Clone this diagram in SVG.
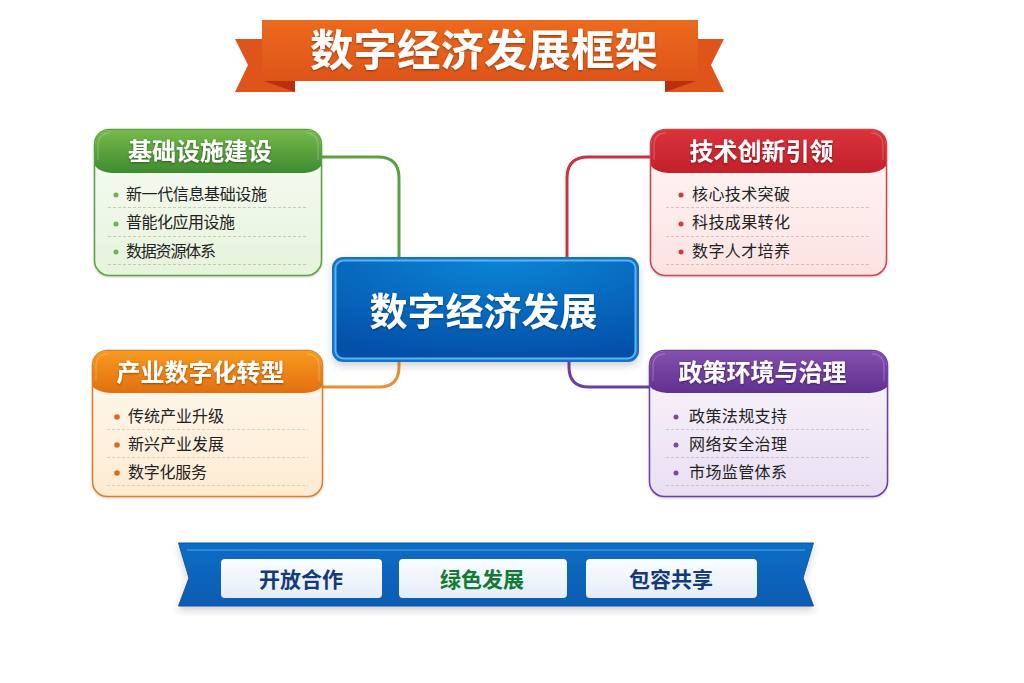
<svg xmlns="http://www.w3.org/2000/svg" width="1024" height="683" viewBox="0 0 1024 683">
<style>
text{font-family:"Noto Sans CJK SC","Liberation Sans",sans-serif;text-anchor:middle}
.h{font-size:24px;font-weight:700;fill:#fff;filter:url(#ts)}
.i{font-size:16px;font-weight:400;fill:#222;text-anchor:start}
.d{stroke-width:.8;stroke-dasharray:3 2;fill:none;opacity:.45}
.c{fill:none;stroke-width:3}
.b{font-size:21px;font-weight:700}
.hl{fill:none;stroke:#fff;stroke-opacity:.18;stroke-width:1.500}
</style>
<defs>
<filter id="ts" x="-10%" y="-20%" width="120%" height="140%"><feDropShadow dx="0" dy="1" stdDeviation=".8" flood-color="#000" flood-opacity=".4"/></filter>
<filter id="sh" x="-10%" y="-15%" width="120%" height="135%"><feDropShadow dx="0" dy="4" stdDeviation="3.500" flood-color="#334" flood-opacity=".22"/></filter>
<filter id="sh2" x="-5%" y="-10%" width="110%" height="130%"><feDropShadow dx="0" dy="1" stdDeviation="1" flood-color="#000" flood-opacity=".2"/></filter>
<linearGradient id="gt" x1="0" y1="0" x2="0" y2="1"><stop offset="0" stop-color="#ec6a1d"/><stop offset="1" stop-color="#dd5419"/></linearGradient>
<radialGradient id="gc" cx=".55" cy="0" r="1"><stop offset="0" stop-color="#0b84d6"/><stop offset="1" stop-color="#0450a8"/></radialGradient>
<linearGradient id="gr" x1="0" y1="0" x2="0" y2="1"><stop offset="0" stop-color="#0f6dc4"/><stop offset="1" stop-color="#0b5cb2"/></linearGradient>
<linearGradient id="gb" x1="0" y1="0" x2="0" y2="1"><stop offset="0" stop-color="#fbfdff"/><stop offset="1" stop-color="#e3edf8"/></linearGradient>
<linearGradient id="g1" x1="0" y1="0" x2="0" y2="1"><stop offset="0" stop-color="#75ba4b"/><stop offset="1" stop-color="#3f8a31"/></linearGradient>
<linearGradient id="g1b" x1="0" y1="0" x2="0" y2="1"><stop offset="0" stop-color="#f9fcf5"/><stop offset="1" stop-color="#e6f3dc"/></linearGradient>
<linearGradient id="g2" x1="0" y1="0" x2="0" y2="1"><stop offset="0" stop-color="#d9343c"/><stop offset="1" stop-color="#c11f2b"/></linearGradient>
<linearGradient id="g2b" x1="0" y1="0" x2="0" y2="1"><stop offset="0" stop-color="#fff7f6"/><stop offset="1" stop-color="#fce3e2"/></linearGradient>
<linearGradient id="g3" x1="0" y1="0" x2="0" y2="1"><stop offset="0" stop-color="#f79a1e"/><stop offset="1" stop-color="#e26f10"/></linearGradient>
<linearGradient id="g3b" x1="0" y1="0" x2="0" y2="1"><stop offset="0" stop-color="#fffaf0"/><stop offset="1" stop-color="#fdebd2"/></linearGradient>
<linearGradient id="g4" x1="0" y1="0" x2="0" y2="1"><stop offset="0" stop-color="#8450ad"/><stop offset="1" stop-color="#623091"/></linearGradient>
<linearGradient id="g4b" x1="0" y1="0" x2="0" y2="1"><stop offset="0" stop-color="#f9f6fc"/><stop offset="1" stop-color="#e9dff2"/></linearGradient>
</defs>
<rect width="1024" height="683" fill="#fff"/>

<g id="connectors">
<path class="c" stroke="#5da044" d="M322 157H378Q399 157 399 178V258"/>
<path class="c" stroke="#c9343f" d="M650 157H588Q567 157 567 178V258"/>
<path class="c" stroke="#e98f35" d="M399 361V367Q399 387 379 387H322"/>
<path class="c" stroke="#6f3f9f" d="M569 361V367Q569 387 589 387H650"/>
</g>

<g id="title-banner">
<path fill="#df541b" d="M235 39H275V92H235L248 65Z"/>
<path fill="#df541b" d="M724 39H685V92H724L711 65Z"/>
<path fill="#df541b" d="M270 85H295V92H270ZM690 85H665V92H690Z"/>
<path fill="#b8300f" d="M264 81H295V92Z"/>
<path fill="#b8300f" d="M696 81H665V92Z"/>
<rect x="262" y="20" width="436" height="61" fill="url(#gt)"/>
<text x="484" y="66" font-size="43.500" font-weight="700" fill="#fff" filter="url(#ts)">数字经济发展框架</text>
</g>

<g id="node-infrastructure">
<rect x="94.500" y="129.500" width="227" height="146" rx="15" fill="url(#g1b)" stroke="#5da044" stroke-width="1.500" filter="url(#sh2)"/>
<path fill="url(#g1)" d="M95 166V145Q95 130 110 130H306Q321 130 321 145V166Q316 172 304 173H112Q100 172 95 166Z"/>
<path class="hl" d="M98 160V146Q98 133 110 133"/>
<path class="hl" d="M318 160V146Q318 133 306 133"/>
<text class="h" x="200" y="160">基础设施建设</text>
<circle cx="116" cy="195" r="2.500" fill="#6db357"/><circle cx="116" cy="224" r="2.500" fill="#6db357"/><circle cx="116" cy="252" r="2.500" fill="#6db357"/>
<text class="i" x="126" y="200" textLength="141">新一代信息基础设施</text>
<text class="i" x="126" y="228" textLength="109">普能化应用设施</text>
<text class="i" x="126" y="257" textLength="90">数据资源体系</text>
<path class="d" stroke="#6b8a5c" d="M108 207.500H306M108 236.500H306M108 264.500H306"/>
</g>

<g id="node-innovation">
<rect x="650.500" y="129.500" width="236" height="146" rx="15" fill="url(#g2b)" stroke="#d0454c" stroke-width="1.500" filter="url(#sh2)"/>
<path fill="url(#g2)" d="M651 166V145Q651 130 666 130H871Q886 130 886 145V166Q881 172 869 173H668Q656 172 651 166Z"/>
<path class="hl" d="M654 160V146Q654 133 666 133"/>
<path class="hl" d="M883 160V146Q883 133 871 133"/>
<text class="h" x="761.500" y="160">技术创新引领</text>
<circle cx="681" cy="195" r="2.500" fill="#d0393f"/><circle cx="681" cy="224" r="2.500" fill="#d0393f"/><circle cx="681" cy="252" r="2.500" fill="#d0393f"/>
<text class="i" x="692" y="200" textLength="98">核心技术突破</text>
<text class="i" x="692" y="228" textLength="98">科技成果转化</text>
<text class="i" x="692" y="257" textLength="98">数字人才培养</text>
<path class="d" stroke="#a07070" d="M666 207.500H871M666 236.500H871M666 264.500H871"/>
</g>

<g id="node-industry">
<rect x="92.500" y="350.500" width="230" height="146" rx="15" fill="url(#g3b)" stroke="#d9802c" stroke-width="1.500" filter="url(#sh2)"/>
<path fill="url(#g3)" d="M93 387V366Q93 351 108 351H307Q322 351 322 366V387Q317 392 305 393H110Q98 392 93 387Z"/>
<path class="hl" d="M96 381V367Q96 354 108 354"/>
<path class="hl" d="M319 381V367Q319 354 307 354"/>
<text class="h" x="200.500" y="381">产业数字化转型</text>
<circle cx="117" cy="417" r="2.800" fill="#dd6a1f"/><circle cx="117" cy="445" r="2.800" fill="#dd6a1f"/><circle cx="117" cy="473" r="2.800" fill="#dd6a1f"/>
<text class="i" x="128" y="422" textLength="96">传统产业升级</text>
<text class="i" x="128" y="450" textLength="96">新兴产业发展</text>
<text class="i" x="128" y="478" textLength="79">数字化服务</text>
<path class="d" stroke="#b09470" d="M107 429.500H308M107 457.500H308M107 485.500H308"/>
</g>

<g id="node-policy">
<rect x="649.500" y="350.500" width="238" height="146" rx="15" fill="url(#g4b)" stroke="#6f3f9f" stroke-width="1.500" filter="url(#sh2)"/>
<path fill="url(#g4)" d="M650 387V366Q650 351 665 351H872Q887 351 887 366V387Q882 392 870 393H667Q655 392 650 387Z"/>
<path class="hl" d="M653 381V367Q653 354 665 354"/>
<path class="hl" d="M884 381V367Q884 354 872 354"/>
<text class="h" x="762.500" y="381">政策环境与治理</text>
<circle cx="676" cy="417" r="2.500" fill="#7b4aa8"/><circle cx="676" cy="445" r="2.500" fill="#7b4aa8"/><circle cx="676" cy="473" r="2.500" fill="#7b4aa8"/>
<text class="i" x="689" y="422" textLength="98">政策法规支持</text>
<text class="i" x="689" y="450" textLength="98">网络安全治理</text>
<text class="i" x="689" y="478" textLength="98">市场监管体系</text>
<path class="d" stroke="#8f7ca5" d="M666 429.500H870M666 457.500H870M666 485.500H870"/>
</g>

<g id="node-center">
<rect x="332" y="257" width="307" height="105" rx="11" fill="#1873cc" filter="url(#sh)"/>
<rect x="335.500" y="260.500" width="300" height="98" rx="8" fill="url(#gc)" stroke="#5ab4ee" stroke-width="2"/>
<text x="483.500" y="325" font-size="38" font-weight="700" fill="#fff" filter="url(#ts)">数字经济发展</text>
</g>

<g id="bottom-banner">
<path fill="url(#gr)" stroke="#0a57a8" d="M178.500 543H813.500L803 578L813.500 606H178.500L189 578Z" filter="url(#sh)"/>
<path d="M187 550H805" stroke="#52a6e8" stroke-width="1" fill="none"/>
<g id="node-open"><rect x="221" y="559" width="161" height="39" rx="4" fill="url(#gb)"/><text class="b" x="301" y="586.500" fill="#133a7c">开放合作</text></g>
<g id="node-green"><rect x="399" y="559" width="168" height="39" rx="4" fill="url(#gb)"/><text class="b" x="482" y="586.500" fill="#127a35">绿色发展</text></g>
<g id="node-inclusive"><rect x="586" y="559" width="171" height="39" rx="4" fill="url(#gb)"/><text class="b" x="671" y="586.500" fill="#133a7c">包容共享</text></g>
</g>
</svg>
